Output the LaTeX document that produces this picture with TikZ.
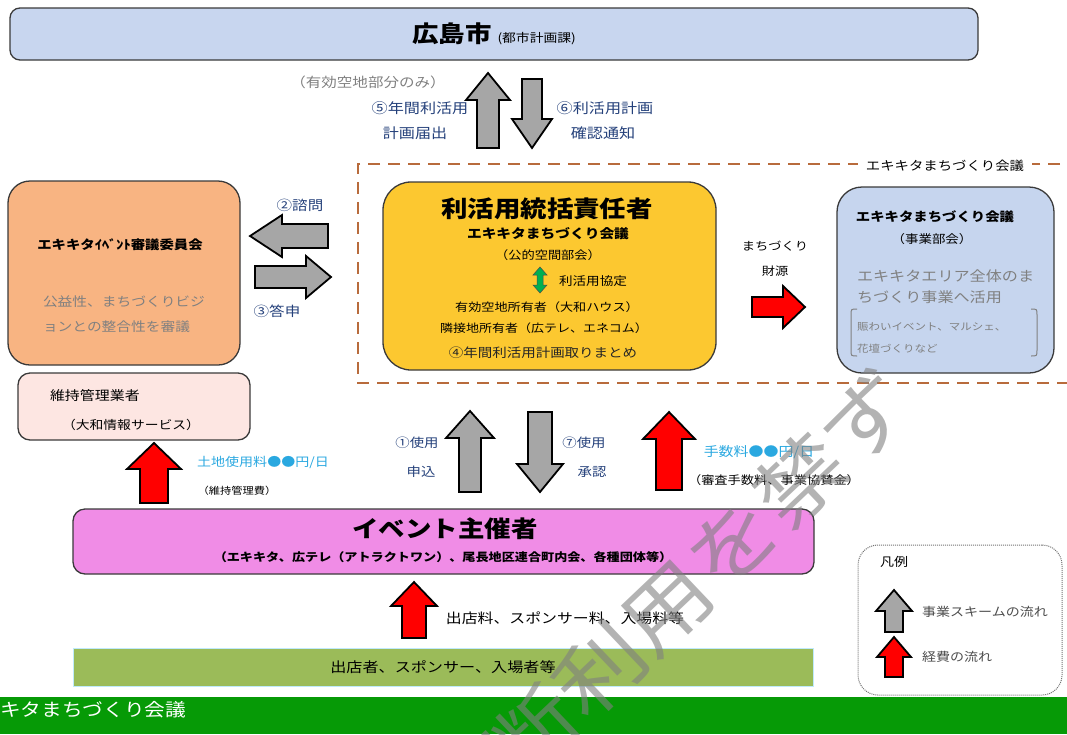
\documentclass[tikz,border=0pt]{standalone}
\usepackage{fontspec}
\setmainfont{Noto Sans CJK JP}[FakeStretch=1.15]
\usetikzlibrary{calc}
\definecolor{boxline}{HTML}{3A3A3A}
\definecolor{topblue}{HTML}{C8D6EF}
\definecolor{orangebox}{HTML}{F8B482}
\definecolor{yellowbox}{HTML}{FCC830}
\definecolor{rightblue}{HTML}{C6D5EE}
\definecolor{maintpink}{HTML}{FDE6E2}
\definecolor{eventpink}{HTML}{F08CE6}
\definecolor{barolive}{HTML}{9BBB59}
\definecolor{bandgreen}{HTML}{069A06}
\definecolor{dashbrown}{HTML}{B86B3C}
\definecolor{cyantext}{HTML}{2AA8E0}
\definecolor{navytext}{HTML}{24407A}
\definecolor{graytext}{HTML}{808080}
\definecolor{arrgray}{HTML}{A6A6A6}
\definecolor{arrred}{HTML}{FF0000}
\definecolor{arrgreen}{HTML}{00B050}
\newcommand{\fsz}[1]{\fontsize{#1}{#1}\selectfont}
% vertical block arrow: style, cx, tip y, head-base y, tail y, body half, head half
\newcommand{\arrV}[7]{\draw[#1] (#2-#6,#5) -- (#2-#6,#4) -- (#2-#7,#4) -- (#2,#3) -- (#2+#7,#4) -- (#2+#6,#4) -- (#2+#6,#5) -- cycle;}
% horizontal block arrow: style, cy, tip x, head-base x, tail x, body half, head half
\newcommand{\arrH}[7]{\draw[#1] (#5,#2-#6) -- (#4,#2-#6) -- (#4,#2-#7) -- (#3,#2) -- (#4,#2+#7) -- (#4,#2+#6) -- (#5,#2+#6) -- cycle;}
\tikzset{
  box/.style={draw=boxline, line width=1.3pt, rounded corners=#1},
  box/.default=10,
  t/.style={inner sep=0pt, outer sep=0pt},
  garrow/.style={draw=black, line width=1.8pt, fill=arrgray, line join=miter},
  rarrow/.style={draw=black, line width=1.8pt, fill=arrred, line join=miter},
  dashline/.style={draw=dashbrown, line width=2.4pt, dash pattern=on 12pt off 8pt},
}
\begin{document}
\begin{tikzpicture}[x=1pt,y=-1pt]
\useasboundingbox (0,0) rectangle (1067,734);
\clip (0,0) rectangle (1067,734);

% ---------- top box ----------
\node[box=10, fill=topblue, minimum width=968, minimum height=52] (city) at (494,34) {};
\node[t] (cityT) at (494,34) {\fsz{23}\bfseries 広島市\hspace{6pt}\fsz{12}\mdseries (都市計画課)};

\node[t, text=graytext] (onlyT) at (368,82) {\fsz{13.5}（有効空地部分のみ）};
\arrV{garrow}{488}{73}{100}{148}{11}{22}
\arrV{garrow}{532}{148}{119}{79}{10}{20}
\node[t, text=navytext] (l5a) at (420,108) {\fsz{14}⑤年間利活用};
\node[t, text=navytext] (l5b) at (415,133) {\fsz{14}計画届出};
\node[t, text=navytext] (l6a) at (605,108) {\fsz{14}⑥利活用計画};
\node[t, text=navytext] (l6b) at (603,133) {\fsz{14}確認通知};

% ---------- dashed group ----------
\draw[dashline] (1080,164) -- (358,164) -- (358,383) -- (1080,383);
\node[t, fill=white, inner xsep=8pt, inner ysep=3pt] (grpT) at (945,166) {\fsz{12.5}エキキタまちづくり会議};

% ---------- left orange box ----------
\node[box=22, fill=orangebox, minimum width=232, minimum height=184] (council) at (124,273) {};
\node[t] (councilT) at (120,245) {\fsz{12.5}\bfseries エキキタｲﾍﾞﾝﾄ審議委員会};
\node[t, text=graytext, anchor=west] (councilA) at (43,302) {\fsz{12.8}公益性、まちづくりビジ};
\node[t, text=graytext, anchor=west] (councilB) at (43,327) {\fsz{12.8}ョンとの整合性を審議};

\arrH{garrow}{236}{250}{282}{328}{12}{21}
\arrH{garrow}{277}{331}{306}{255}{11}{21}
\node[t, text=navytext] (l2) at (300,205) {\fsz{13.5}②諮問};
\node[t, text=navytext] (l3) at (277,311) {\fsz{13.5}③答申};

% ---------- maintenance box ----------
\node[box=12, fill=maintpink, minimum width=232, minimum height=67] (maint) at (134,406.5) {};
\node[t, anchor=west] (maintA) at (50,396) {\fsz{13}維持管理業者};
\node[t, anchor=west] (maintB) at (62,425) {\fsz{12}（大和情報サービス）};

% ---------- yellow box ----------
\node[box=28, fill=yellowbox, minimum width=333, minimum height=188] (resp) at (549.5,276) {};
\node[t] (respA) at (547,209) {\fsz{23}\bfseries 利活用統括責任者};
\node[t] (respB) at (548,234) {\fsz{12.8}\bfseries エキキタまちづくり会議};
\node[t] (respC) at (548,255) {\fsz{11.5}（公的空間部会）};
\draw[draw=black!70, line width=0.5pt, fill=arrgreen] (540,267) -- (547,275) -- (543,275) -- (543,285) -- (547,285) -- (540,293) -- (533,285) -- (537,285) -- (537,275) -- (533,275) -- cycle;
\node[t] (respD) at (593,281) {\fsz{11.8}利活用協定};
\node[t] (respE) at (547,307) {\fsz{11.4}有効空地所有者（大和ハウス）};
\node[t] (respF) at (544,328) {\fsz{11.3}隣接地所有者（広テレ、エネコム）};
\node[t, text=black!85] (respG) at (543,353) {\fsz{12.6}④年間利活用計画取りまとめ};

% ---------- right blue box ----------
\node[t] (fundA) at (775,246) {\fsz{11.5}まちづくり};
\node[t] (fundB) at (775,271) {\fsz{11.5}財源};
\arrH{rarrow}{307}{805}{783}{752}{10}{21}
\node[box=25, fill=rightblue, minimum width=217, minimum height=186] (biz) at (945.5,280) {};
\node[t] (bizA) at (935,217) {\fsz{12.5}\bfseries エキキタまちづくり会議};
\node[t] (bizB) at (932,239) {\fsz{11.7}（事業部会）};
\node[t, text=graytext, anchor=west] (bizC) at (857,276) {\fsz{14}エキキタエリア全体のま};
\node[t, text=graytext, anchor=west] (bizD) at (857,297) {\fsz{14}ちづくり事業へ活用};
\node[t, text=graytext, anchor=west] (bizE) at (857,327) {\fsz{10}賑わいイベント、マルシェ、};
\node[t, text=graytext, anchor=west] (bizF) at (857,349) {\fsz{10}花壇づくりなど};
\draw[graytext, line width=1pt] (857,309) .. controls (851,309) .. (851,315) -- (851,350) .. controls (851,356) .. (857,356);
\draw[graytext, line width=1pt] (1031,309) .. controls (1037,309) .. (1037,315) -- (1037,350) .. controls (1037,356) .. (1031,356);

% ---------- middle arrows ----------
\arrV{garrow}{470}{411}{438}{492}{11}{24}
\arrV{garrow}{540}{492}{464}{412}{12}{23}
\arrV{rarrow}{669}{412}{439}{490}{13}{26}
\node[t, text=navytext] (l1a) at (417,443) {\fsz{12.5}①使用};
\node[t, text=navytext] (l1b) at (421,472) {\fsz{12.5}申込};
\node[t, text=navytext] (l7a) at (584,443) {\fsz{12.5}⑦使用};
\node[t, text=navytext] (l7b) at (592,472) {\fsz{12.5}承認};
\node[t, text=cyantext] (feeA) at (759,452) {\fsz{13}手数料●●円/日};
\node[t] (feeB) at (774,480) {\fsz{11.5}（審査手数料、事業協賛金）};

\arrV{rarrow}{154}{443}{469}{503}{14}{27}
\node[t, text=cyantext] (landA) at (263,462) {\fsz{12.2}土地使用料●●円/日};
\node[t] (landB) at (237,491) {\fsz{9.8}（維持管理費）};

% ---------- event organiser ----------
\node[box=12, fill=eventpink, minimum width=741, minimum height=65] (event) at (443.5,541.5) {};
\node[t] (eventA) at (445,529) {\fsz{23}\bfseries イベント主催者};
\node[t] (eventB) at (443,557) {\fsz{11.4}\bfseries （エキキタ、広テレ（アトラクトワン）、尾長地区連合町内会、各種団体等）};

\arrV{rarrow}{414}{582}{606}{638}{12}{23}
\node[t] (shopFee) at (565,618) {\fsz{13.8}出店料、スポンサー料、入場料等};

\node[draw=cyan!25, line width=1pt, fill=barolive, minimum width=740, minimum height=38] (shops) at (443,667) {};
\node[t] (shopsT) at (443,667) {\fsz{14}出店者、スポンサー、入場者等};

% ---------- legend ----------
\node[draw=black!55, line width=1pt, dash pattern=on 1pt off 1pt, rounded corners=20, minimum width=204, minimum height=150] (legend) at (960,620) {};
\node[t, anchor=west] (legT) at (880,562) {\fsz{12.2}凡例};
\arrV{garrow}{894}{590}{611}{632}{9}{18}
\arrV{rarrow}{894}{637}{657}{677}{9}{17}
\node[t, anchor=west, text=black!70] (legA) at (922,612) {\fsz{12.2}事業スキームの流れ};
\node[t, anchor=west, text=black!70] (legB) at (922,657) {\fsz{12.2}経費の流れ};

% ---------- bottom band ----------
\fill[bandgreen] (0,697) rectangle (1067,734);
\node[t, anchor=west, text=white] (bandT) at (0,710) {\fsz{18}キタまちづくり会議};

% ---------- watermark ----------
\node[t, text=gray, opacity=0.6, rotate=43.5] (wm) at (700,575) {\fsz{80}断利用を禁ず};
\end{tikzpicture}
\end{document}
